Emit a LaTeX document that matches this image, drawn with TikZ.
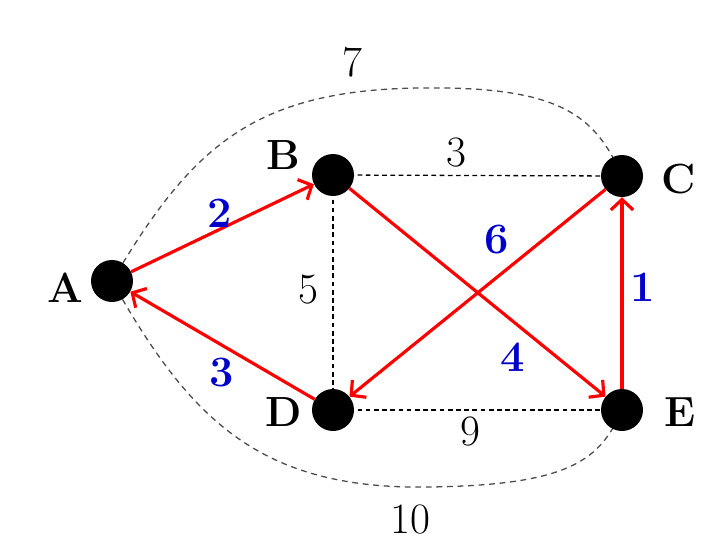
\documentclass[tikz,border=0pt]{standalone}
\usetikzlibrary{arrows.meta}
\begin{document}
\begin{tikzpicture}[x=0.03cm,y=-0.03cm,
  vtx/.style={circle,fill=black,minimum size=42*0.03cm,inner sep=0pt},
  lbl/.style={font=\fontsize{36}{42}\selectfont\bfseries},
  wt/.style={font=\fontsize{37}{42}\selectfont},
  bw/.style={font=\fontsize{37}{42}\selectfont\bfseries,text=blue!80!black},
  sdash/.style={line width=1.1pt,dash pattern=on 4pt off 3pt},
  cdash/.style={line width=1.1pt,dash pattern=on 5pt off 4pt,black!70},
  red arr/.style={draw=red,line width=2.7pt,-{Straight Barb[length=9pt,width=19pt,line width=2.7pt]}}]
\useasboundingbox (0,0) rectangle (714,556);
\coordinate (a) at (112,281);
\coordinate (b) at (333,175);
\coordinate (c) at (622,176);
\coordinate (d) at (333,410);
\coordinate (e) at (622,410);
% dashed edges
\draw[cdash] (a) .. controls (190,150) and (250,90) .. (420,88) .. controls (560,86) and (595,115) .. (c);
\draw[cdash] (a) .. controls (190,420) and (260,490) .. (430,487) .. controls (570,485) and (600,460) .. (e);
\draw[sdash] (b) -- (c);
\draw[sdash] (b) -- (d);
\draw[sdash] (d) -- (e);
% vertices
\node[vtx] (A) at (a) {};
\node[vtx] (B) at (b) {};
\node[vtx] (C) at (c) {};
\node[vtx] (D) at (d) {};
\node[vtx] (E) at (e) {};
% red arrows
\draw[red arr] (D) -- (A);
\draw[red arr] (A) -- (B);
\draw[red arr] (B) -- (E);
\draw[red arr] (E) -- (C);
\draw[red arr] (C) -- (D);
% vertex labels
\node[lbl] (LA) at (65,288) {A};
\node[lbl] (LB) at (283,155) {B};
\node[lbl] (LC) at (679,179) {C};
\node[lbl] (LD) at (284,412) {D};
\node[lbl] (LE) at (680,412) {E};
% weights
\node[wt] (w7) at (352,62) {7};
\node[wt] (w3) at (456,153) {3};
\node[wt] (w5) at (308,290) {5};
\node[wt] (w9) at (470,432) {9};
\node[wt] (w10) at (410,520) {10};
\node[bw] (b2) at (220,213) {2};
\node[bw] (b6) at (497,240) {6};
\node[bw] (b1) at (643,287) {1};
\node[bw] (b4) at (513,357) {4};
\node[bw] (b3) at (222,373) {3};
\end{tikzpicture}
\end{document}
